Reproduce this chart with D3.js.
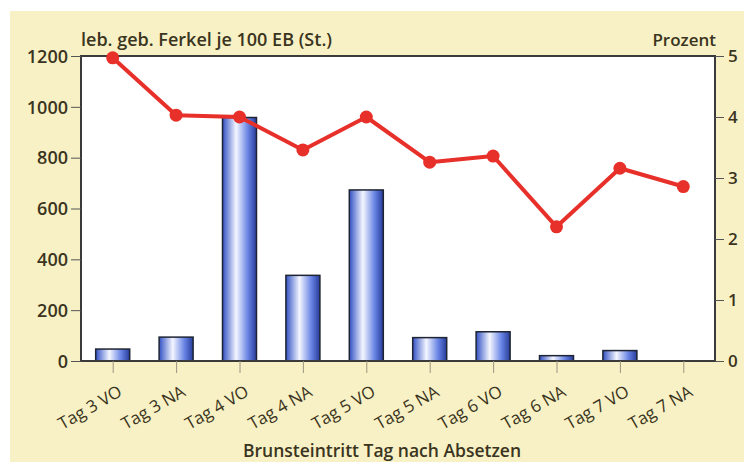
<!DOCTYPE html>
<html>
<head>
<meta charset="utf-8">
<script src="https://cdn.jsdelivr.net/npm/d3@7"></script>
<style>
  body { margin: 0; background: #fff; }
  svg { display: block; }
  text { font-family: "Open Sans", "Noto Sans", sans-serif; fill: #3a3420; }
</style>
</head>
<body>
<svg id="chart" width="744" height="462"></svg>
<script>
const categories = ['Tag 3 VO', 'Tag 3 NA', 'Tag 4 VO', 'Tag 4 NA', 'Tag 5 VO',
    'Tag 5 NA', 'Tag 6 VO', 'Tag 6 NA', 'Tag 7 VO', 'Tag 7 NA'];
const ferkel = [47, 94, 958, 337, 673, 92, 115, 21, 41, 0];
const prozent = [4.97, 4.03, 4.0, 3.46, 4.0, 3.26, 3.36, 2.2, 3.16, 2.86];
const leftTicks = [0, 200, 400, 600, 800, 1000, 1200];
const rightTicks = [0, 1, 2, 3, 4, 5];

const svg = d3.select('#chart');
const margin = { top: 56, left: 81, right: 29, bottom: 101 };
const width = 744 - margin.left - margin.right;
const height = 462 - margin.top - margin.bottom;

// beige page
svg.append('rect').attr('x', 10).attr('y', 11).attr('width', 734).attr('height', 451).attr('fill', '#f8f1c6');

const defs = svg.append('defs');
const grad = defs.append('linearGradient').attr('id', 'barGrad');
grad.append('stop').attr('offset', '0%').attr('stop-color', '#3151c4');
grad.append('stop').attr('offset', '40%').attr('stop-color', '#f4f6ff');
grad.append('stop').attr('offset', '75%').attr('stop-color', '#6783e4');
grad.append('stop').attr('offset', '100%').attr('stop-color', '#273c9a');

const g = svg.append('g').attr('transform', `translate(${margin.left},${margin.top})`);

g.append('rect').attr('width', width).attr('height', height).attr('fill', '#fff');

const xc = d3.scalePoint().domain(categories).range([0, width]).padding(0.5);
const yL = d3.scaleLinear().domain([0, 1200]).range([height, 0]);
const yR = d3.scaleLinear().domain([0, 5]).range([height, 0]);

// bars
g.selectAll('.bar')
    .data(categories)
    .enter()
    .append('rect')
    .attr('class', 'bar')
    .attr('x', d => xc(d) - 17)
    .attr('width', 34)
    .attr('y', (d, i) => yL(ferkel[i]))
    .attr('height', (d, i) => height - yL(ferkel[i]))
    .attr('fill', 'url(#barGrad)')
    .attr('stroke', '#1e2433')
    .attr('stroke-width', 1.5)
    .style('display', (d, i) => ferkel[i] > 0 ? null : 'none');

// frame
g.append('rect').attr('width', width).attr('height', height)
    .attr('fill', 'none').attr('stroke', '#3a3a3a').attr('stroke-width', 2);

// left axis
const axL = g.append('g').call(d3.axisLeft(yL).tickValues(leftTicks).tickFormat(d3.format('d')).tickSize(10).tickPadding(3));
axL.select('.domain').remove();
axL.selectAll('line').attr('stroke', '#555').attr('stroke-width', 1);
axL.selectAll('text').style('font-size', '18px').style('font-weight', 600).attr('fill', '#3a3420').attr('dy', '0.35em');

// right axis
const axR = g.append('g').attr('transform', `translate(${width},0)`)
    .call(d3.axisRight(yR).tickValues(rightTicks).tickFormat(d3.format('d')).tickSize(9).tickPadding(4));
axR.select('.domain').remove();
axR.selectAll('line').attr('stroke', '#555').attr('stroke-width', 1);
axR.selectAll('text').style('font-size', '17px').style('font-weight', 600).attr('fill', '#3a3420').attr('dy', '0.35em');

// bottom axis
const axB = g.append('g').attr('transform', `translate(0,${height})`)
    .call(d3.axisBottom(xc).tickSize(12).tickPadding(0));
axB.select('.domain').remove();
axB.selectAll('line').attr('stroke', '#9a9680').attr('stroke-width', 1);
axB.selectAll('text')
    .style('font-size', '17px')
    .style('font-weight', 500)
    .attr('fill', '#3a3420')
    .attr('text-anchor', 'end')
    .attr('y', 0)
    .attr('dy', 0)
    .attr('transform', 'translate(10,34) rotate(-30)');

// line
const line = d3.line().x(d => xc(d[0])).y(d => yR(d[1]));
const pts = categories.map((c, i) => [c, prozent[i]]);
g.append('path').datum(pts).attr('d', line)
    .attr('fill', 'none').attr('stroke', '#e8302a').attr('stroke-width', 4).attr('stroke-linejoin', 'round');
g.selectAll('.dot').data(pts).enter().append('circle')
    .attr('cx', d => xc(d[0])).attr('cy', d => yR(d[1])).attr('r', 6.5).attr('fill', '#e8302a');

// titles
svg.append('text').attr('x', 81).attr('y', 46).text('leb. geb. Ferkel je 100 EB (St.)')
    .style('font-size', '18px').style('font-weight', 600);
svg.append('text').attr('x', 716).attr('y', 46).attr('text-anchor', 'end').text('Prozent')
    .style('font-size', '17px').style('font-weight', 600);
svg.append('text').attr('x', 382).attr('y', 457).attr('text-anchor', 'middle').text('Brunsteintritt Tag nach Absetzen')
    .style('font-size', '17.5px').style('font-weight', 600);
</script>
</body>
</html>
